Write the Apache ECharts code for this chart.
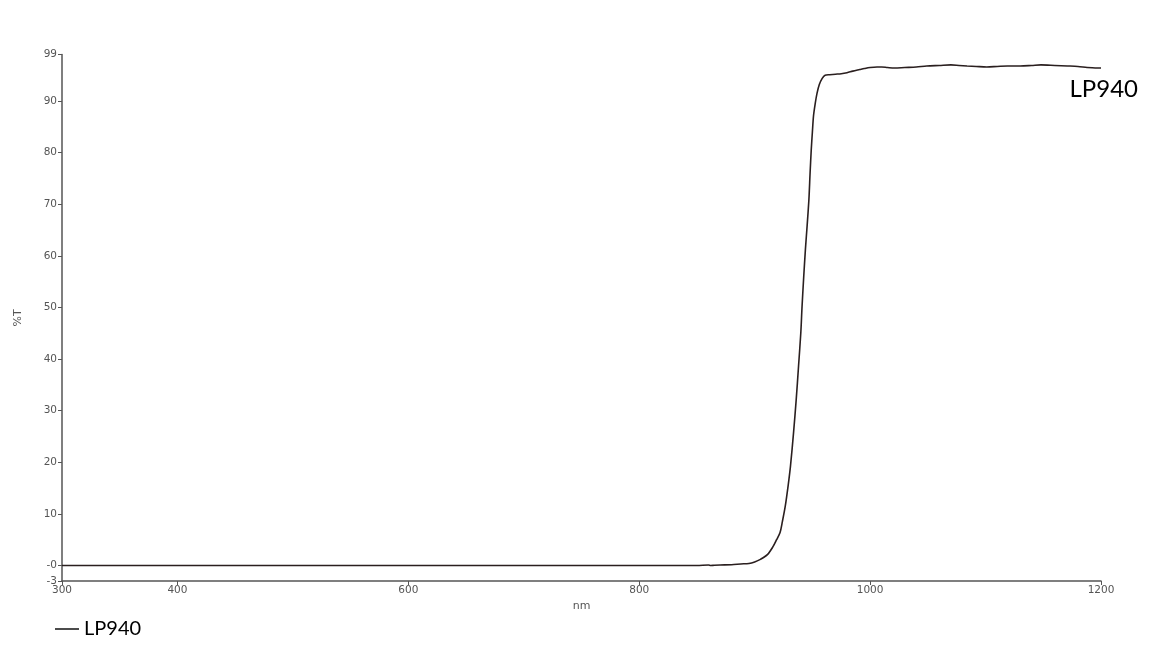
<!DOCTYPE html>
<html>
<head>
<meta charset="utf-8">
<script src="https://cdn.jsdelivr.net/npm/echarts@6/dist/echarts.min.js"></script>
<style>
html,body{margin:0;padding:0;background:#fff;}
#chart{width:1160px;height:654px;}
</style>
</head>
<body>
<div id="chart"></div>
<script>
var seriesName = 'LP940';
var wavelengths = [300, 400, 500, 600, 700, 800, 850, 860, 862, 865, 870, 880, 888, 895, 900, 905, 911, 916, 919, 922, 924, 926.5, 929, 931, 933.7, 936, 938, 940, 941, 942.5, 944, 945.5, 947, 948, 949, 950, 951, 952.5, 954, 956, 958.5, 961, 965, 970, 975, 980, 985, 991, 995, 1000, 1006, 1010, 1015, 1021, 1030, 1040, 1049, 1060, 1070, 1077, 1084, 1092, 1101, 1110, 1119, 1130, 1140, 1148, 1160, 1171, 1180, 1188, 1195, 1200];
var transmission = [0, 0, 0, 0, 0, 0, 0, 0.1, 0, 0.05, 0.1, 0.15, 0.3, 0.4, 0.7, 1.2, 2.1, 3.7, 5, 6.4, 8.5, 11.5, 15.5, 19.2, 25.8, 32.2, 38.6, 45.2, 50, 56, 61.4, 66, 71, 76, 80.5, 84, 87.2, 89.6, 91.5, 93.2, 94.4, 95.0, 95.1, 95.2, 95.3, 95.5, 95.8, 96.1, 96.3, 96.5, 96.6, 96.6, 96.5, 96.4, 96.5, 96.6, 96.8, 96.9, 97.0, 96.9, 96.8, 96.7, 96.6, 96.7, 96.8, 96.8, 96.9, 97.0, 96.9, 96.8, 96.7, 96.5, 96.4, 96.4];
var xTicks = [300, 400, 600, 800, 1000, 1200];
var yTicks = [-3, 0, 10, 20, 30, 40, 50, 60, 70, 80, 90, 99];
var yTickLabels = ['-3', '-0', '10', '20', '30', '40', '50', '60', '70', '80', '90', '99'];

var data = wavelengths.map(function (w, i) { return [w, transmission[i]]; });

var chart = echarts.init(document.getElementById('chart'));
var axisColor = '#555';
var labelColor = '#555';
chart.setOption({
  animation: false,
  backgroundColor: '#fff',
  grid: { left: 62, right: 59, top: 54.6, bottom: 73, containLabel: false, outerBoundsMode: 'none' },
  legend: {
    left: 50, top: 614,
    itemWidth: 24, itemHeight: 14, itemGap: 5,
    textStyle: { fontFamily: 'Lato', fontSize: 20, color: '#000' },
    data: [{ name: seriesName, icon: 'path://M0,0 L24,0 L24,1.5 L0,1.5 Z', itemStyle: { color: '#111' } }]
  },
  graphic: [{
    type: 'text', right: 22, top: 77,
    style: { text: seriesName, font: '24px Lato', fill: '#000' }
  }],
  xAxis: {
    type: 'value', min: 300, max: 1200,
    name: 'nm', nameLocation: 'middle', nameGap: 16,
    nameTextStyle: { fontFamily: 'DejaVu Sans', fontSize: 11, color: labelColor },
    axisLine: { show: true, onZero: false, lineStyle: { color: axisColor, width: 1.5 } },
    axisTick: { show: true, length: 4, customValues: xTicks, lineStyle: { color: axisColor } },
    axisLabel: {
      customValues: xTicks, margin: 4, fontFamily: 'DejaVu Sans', fontSize: 10.5, color: labelColor,
      formatter: function (v) { return String(v); }
    },
    splitLine: { show: false }
  },
  yAxis: {
    type: 'value', min: -3, max: 99,
    name: '%T', nameLocation: 'middle', nameGap: 38, nameRotate: 90,
    nameTextStyle: { fontFamily: 'DejaVu Sans', fontSize: 11, color: labelColor },
    axisLine: { show: true, lineStyle: { color: axisColor, width: 1.5 } },
    axisTick: { show: true, length: 4, customValues: yTicks, lineStyle: { color: axisColor } },
    axisLabel: {
      customValues: yTicks, margin: 5, fontFamily: 'DejaVu Sans', fontSize: 10.5, color: labelColor,
      formatter: function (v) {
        var i = yTicks.indexOf(v);
        return i >= 0 ? yTickLabels[i] : '';
      }
    },
    splitLine: { show: false }
  },
  series: [{
    name: seriesName,
    type: 'line',
    data: data,
    symbol: 'none',
    showSymbol: false,
    smooth: 0.3,
    lineStyle: { color: '#2a1f1f', width: 1.6 },
    itemStyle: { color: '#2a1f1f' }
  }]
});
</script>
</body>
</html>
